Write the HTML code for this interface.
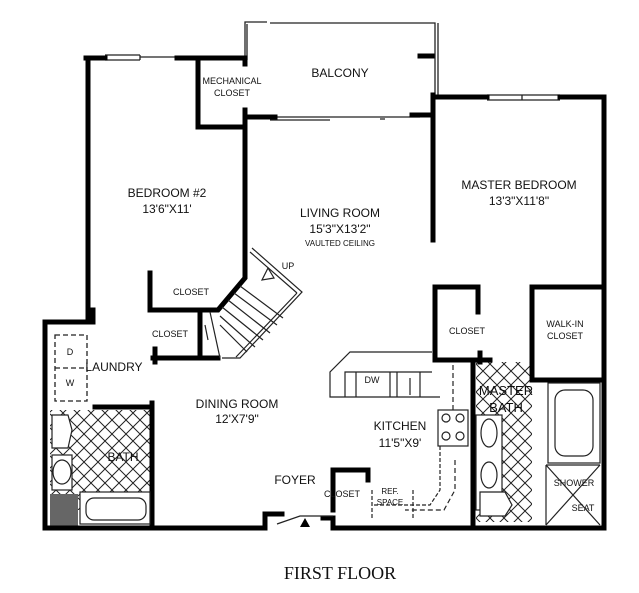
<!DOCTYPE html>
<html><head><meta charset="utf-8"><style>
html,body{margin:0;padding:0;background:#fff;}
svg{display:block;}
text{font-family:"Liberation Sans",sans-serif;fill:#111;text-anchor:middle;}
</style></head><body>
<svg width="639" height="593" viewBox="0 0 639 593" xmlns="http://www.w3.org/2000/svg">
<defs>
<pattern id="x" width="14" height="14" patternUnits="userSpaceOnUse">
<path d="M0 0L14 14M14 0L0 14" stroke="#222" stroke-width="1"/>
</pattern>
</defs>
<!-- balcony thin outline -->
<g fill="none" stroke="#222" stroke-width="1.3">
<path d="M245 62 V22 H267 M270 23 H435 V95"/>
<path d="M247 24 V60 M438 23 V95"/>
<path d="M250 117 H420 M270 120 H330 M380 119 H385"/>
<path d="M105 55 H140 M105 60 H140 M140 55 V60 M140 57 H177"/>
<path d="M487 95 H560 M487 100 H560 M522 95 V100"/>
</g>
<!-- hatch areas -->
<rect x="50" y="410" width="100" height="100" fill="url(#x)"/>
<rect x="476" y="362" width="56" height="160" fill="url(#x)"/>
<rect x="50" y="494" width="28" height="32" fill="#666"/>
<!-- walls -->
<g fill="none" stroke="#000" stroke-width="5" stroke-linecap="square">
<path d="M88 58 V322 M86 58 H105 M177 58 H245 V64"/>
<path d="M198 58 V127 H245"/>
<path d="M245 110 V278 L218 310 H190"/>
<path d="M150 273 V310 H215"/>
<path d="M200 310 V357 M153 358 H218"/>
<path d="M155 349 V362"/>
<path d="M88 322 V305 M45 322 H93 V310"/>
<path d="M45 322 V528 H265 V514 H282"/>
<path d="M152 403 V528 M95 407 H152"/>
<path d="M248 117 H275 M432 115 H412 M432 56 H420"/>
<path d="M433 95 V240 M433 97 H487 M560 97 H604 V525"/>
<path d="M435 287 V360 H490 M435 287 H478 V312 M480 353 V362"/>
<path d="M532 287 V380 H604 M532 287 H604 M532 352 V370"/>
<path d="M473 362 V527"/>
<path d="M333 470 H368 V480 M333 470 V510 M333 520 V528 M323 518 H333"/>
<path d="M333 528 H604"/>
</g>
<!-- stairs -->
<g fill="none" stroke="#222" stroke-width="1.2">
<path d="M250 252 L297 293 M252 248 L302 292 L240 358 L222 358 M297 293 L236 357"/>
<path d="M240 286 L283 318 M234 293 L277 325 M228 300 L270 333 M222 307 L263 340 M220 316 L255 347 M220 325 L247 352"/>
<path d="M210 312 L220 358 M205 325 L208 340"/>
<path d="M268 268 L262 280 L274 278 Z"/>
</g>
<!-- laundry dashed -->
<rect x="55" y="335" width="32" height="66" fill="none" stroke="#222" stroke-width="1.3" stroke-dasharray="5,3"/>
<path d="M55 368 H87" stroke="#222" stroke-width="1.3" stroke-dasharray="5,3"/>
<!-- bath fixtures -->
<g fill="#fff" stroke="#222" stroke-width="1.2">
<path d="M52 415 H68 L72 430 L68 448 H52 Z"/>
<rect x="52" y="455" width="20" height="35"/><ellipse cx="62" cy="472" rx="9" ry="12"/>
<rect x="80" y="492" width="70" height="32"/><rect x="86" y="498" width="60" height="22" rx="8"/>
<rect x="548" y="383" width="52" height="80"/><rect x="555" y="390" width="38" height="66" rx="10"/>
<rect x="476" y="415" width="26" height="95"/><ellipse cx="489" cy="433" rx="8" ry="14"/><ellipse cx="489" cy="475" rx="8" ry="13"/>
<path d="M480 492 H505 L512 505 L505 516 H480 Z"/>
<path d="M546 465 V525 M546 465 H600 M546 465 L600 525 M600 465 L546 525" fill="none"/>
</g>
<!-- kitchen -->
<g fill="none" stroke="#222" stroke-width="1.2">
<path d="M432 352 H350 L330 372 V397 H345 V372 H432 M345 397 H440"/>
<path d="M356 372 V397 M390 372 V397 M420 372 V397"/>
<path d="M397 372 V397 M410 378 V395"/>
<rect x="438" y="410" width="30" height="36"/>
<circle cx="446" cy="418" r="4"/><circle cx="460" cy="418" r="4"/><circle cx="446" cy="436" r="4"/><circle cx="460" cy="436" r="4"/>
<path d="M453 365 V410 M455 460 V490 L444 510 H405" stroke-dasharray="5,3"/>
<path d="M440 446 V490 L430 505 H372 M372 490 V520 M413 490 V520" stroke-dasharray="4,2"/>
<path d="M277 524 L300 516 H333"/>
</g>
<path d="M300 527 L305 518 L310 527 Z" fill="#000"/>
<!-- labels -->
<g font-size="9">
<text x="232" y="84">MECHANICAL</text><text x="232" y="96">CLOSET</text>
<text x="191" y="295">CLOSET</text><text x="170" y="337">CLOSET</text>
<text x="342" y="497">CLOSET</text>
<text x="390" y="494" font-size="8">REF.</text><text x="390" y="505" font-size="8">SPACE</text>
<text x="372" y="383">DW</text>
<text x="467" y="334">CLOSET</text>
<text x="565" y="327">WALK-IN</text><text x="565" y="339">CLOSET</text>
<text x="574" y="486">SHOWER</text><text x="583" y="511">SEAT</text>
<text x="288" y="269">UP</text>
<text x="340" y="246" font-size="8">VAULTED CEILING</text>
<text x="70" y="355">D</text><text x="70" y="386">W</text>
</g>
<g font-size="12">
<text x="340" y="77">BALCONY</text>
<text x="167" y="197">BEDROOM #2</text><text x="167" y="213">13'6"X11'</text>
<text x="340" y="217">LIVING ROOM</text><text x="340" y="233">15'3"X13'2"</text>
<text x="519" y="189">MASTER BEDROOM</text><text x="519" y="205">13'3"X11'8"</text>
<text x="114" y="371">LAUNDRY</text>
<text x="237" y="408">DINING ROOM</text><text x="237" y="423">12'X7'9"</text>
<text x="123" y="461">BATH</text>
<text x="295" y="484">FOYER</text>
<text x="400" y="430">KITCHEN</text><text x="400" y="447">11'5"X9'</text>
<text x="506" y="395" font-size="13">MASTER</text><text x="506" y="412" font-size="13">BATH</text>
</g>
<text x="340" y="579" font-size="18" style="font-family:'Liberation Serif',serif">FIRST FLOOR</text>
</svg>
</body></html>
